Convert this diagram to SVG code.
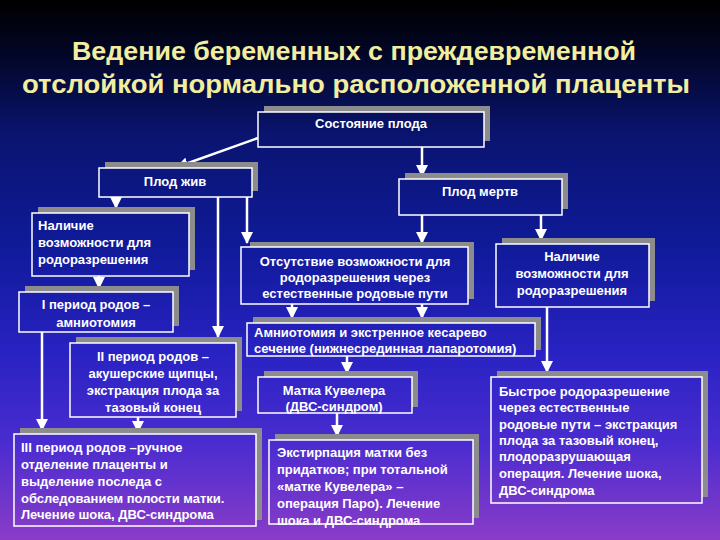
<svg xmlns="http://www.w3.org/2000/svg" width="720" height="540" viewBox="0 0 720 540">
<defs>
<linearGradient id="bg" gradientUnits="userSpaceOnUse" x1="0" y1="0" x2="0" y2="540">
<stop offset="0" stop-color="#000000"/>
<stop offset="0.1" stop-color="#020626"/>
<stop offset="0.25" stop-color="#0a1470"/>
<stop offset="0.45" stop-color="#0f1a98"/>
<stop offset="0.65" stop-color="#2822c2"/>
<stop offset="0.82" stop-color="#4a2cd0"/>
<stop offset="1" stop-color="#8a3cc8"/>
</linearGradient>
<marker id="arr" markerUnits="userSpaceOnUse" markerWidth="12" markerHeight="12" refX="11" refY="6" orient="auto">
<path d="M0,0 L12,6 L0,12 z" fill="#ffffff"/>
</marker>
</defs>
<style>
.sh{fill:#8c8c8c}
.bx{fill:url(#bg);stroke:#ffffff;stroke-width:1.5}
.t{font-family:"Liberation Sans",Arial,sans-serif;font-weight:bold;font-size:13px;fill:#ffffff}
.c{text-anchor:middle}
.ttl{font-family:"Liberation Sans",Arial,sans-serif;font-weight:bold;font-size:25px;fill:#f2eea0;text-anchor:middle}
.ln{stroke:#ffffff;stroke-width:2.5;fill:none;marker-end:url(#arr)}
</style>
<rect x="0" y="0" width="720" height="540" fill="url(#bg)"/>
<g id="title">
<text class="ttl" x="354" y="60" textLength="564" lengthAdjust="spacingAndGlyphs">Ведение беременных с преждевременной</text>
<text class="ttl" x="356" y="93" textLength="668" lengthAdjust="spacingAndGlyphs">отслойкой нормально расположенной плаценты</text>
</g>
<g id="connectors">
<line class="ln" x1="258" y1="138" x2="177" y2="167"/>
<line class="ln" x1="422" y1="147" x2="422" y2="176"/>
<line class="ln" x1="116" y1="197" x2="116" y2="208"/>
<line class="ln" x1="218" y1="197" x2="218" y2="337"/>
<line class="ln" x1="247" y1="197" x2="247" y2="243"/>
<line class="ln" x1="99" y1="276" x2="99" y2="288"/>
<line class="ln" x1="42" y1="332" x2="42" y2="430"/>
<line class="ln" x1="138" y1="417" x2="138" y2="432"/>
<line class="ln" x1="422" y1="215" x2="422" y2="243"/>
<line class="ln" x1="541" y1="215" x2="541" y2="240"/>
<line class="ln" x1="292" y1="304" x2="292" y2="318"/>
<line class="ln" x1="422" y1="304" x2="422" y2="318"/>
<line class="ln" x1="347" y1="356" x2="347" y2="373"/>
<line class="ln" x1="337" y1="413" x2="337" y2="436"/>
<line class="ln" x1="547" y1="307" x2="547" y2="372"/>
</g>
<g id="n-state">
<rect class="sh" x="264" y="106" width="226" height="35"/>
<rect class="bx" x="258" y="112" width="226" height="35"/>
<text class="t c" x="371" y="128">Состояние плода</text>
</g>
<g id="n-alive">
<rect class="sh" x="105" y="162" width="153" height="29"/>
<rect class="bx" x="99" y="168" width="153" height="29"/>
<text class="t c" x="175" y="186">Плод жив</text>
</g>
<g id="n-dead">
<rect class="sh" x="405" y="173" width="163" height="36"/>
<rect class="bx" x="399" y="179" width="163" height="36"/>
<text class="t c" x="480" y="196">Плод мертв</text>
</g>
<g id="n-possible-left">
<rect class="sh" x="38" y="207" width="157" height="63"/>
<rect class="bx" x="32" y="213" width="157" height="63"/>
<text class="t" x="38" y="230">Наличие</text>
<text class="t" x="38" y="247">возможности для</text>
<text class="t" x="38" y="264">родоразрешения</text>
</g>
<g id="n-period1">
<rect class="sh" x="25" y="286" width="154" height="40"/>
<rect class="bx" x="19" y="292" width="154" height="40"/>
<text class="t c" x="96" y="309">I период родов –</text>
<text class="t c" x="96" y="327">амниотомия</text>
</g>
<g id="n-period2">
<rect class="sh" x="76" y="337" width="166" height="74"/>
<rect class="bx" x="70" y="343" width="166" height="74"/>
<text class="t c" x="153" y="361">II период родов –</text>
<text class="t c" x="153" y="378">акушерские щипцы,</text>
<text class="t c" x="153" y="395">экстракция плода за</text>
<text class="t c" x="153" y="412">тазовый конец</text>
</g>
<g id="n-period3">
<rect class="sh" x="20" y="428" width="242" height="92"/>
<rect class="bx" x="14" y="434" width="242" height="92"/>
<text class="t" x="21" y="452">III период родов –ручное</text>
<text class="t" x="21" y="469">отделение плаценты и</text>
<text class="t" x="21" y="486">выделение последа с</text>
<text class="t" x="21" y="503">обследованием полости матки.</text>
<text class="t" x="21" y="519">Лечение шока, ДВС-синдрома</text>
</g>
<g id="n-absent">
<rect class="sh" x="250" y="242" width="224" height="57"/>
<rect class="bx" x="241" y="247" width="227" height="57"/>
<text class="t c" x="355" y="266">Отсутствие возможности для</text>
<text class="t c" x="355" y="282">родоразрешения через</text>
<text class="t c" x="355" y="298">естественные родовые пути</text>
</g>
<g id="n-amnio">
<rect class="sh" x="253" y="317" width="288" height="33"/>
<rect class="bx" x="247" y="323" width="288" height="33"/>
<text class="t" x="254" y="337">Амниотомия и экстренное кесарево</text>
<text class="t" x="254" y="353">сечение (нижнесрединная лапаротомия)</text>
</g>
<g id="n-possible-right">
<rect class="sh" x="502" y="238" width="153" height="63"/>
<rect class="bx" x="496" y="244" width="153" height="63"/>
<text class="t c" x="572" y="261">Наличие</text>
<text class="t c" x="572" y="278">возможности для</text>
<text class="t c" x="572" y="295">родоразрешения</text>
</g>
<g id="n-couvelaire">
<rect class="sh" x="264" y="371" width="154" height="36"/>
<rect class="bx" x="258" y="377" width="154" height="36"/>
<text class="t c" x="334" y="395">Матка Кувелера</text>
<text class="t c" x="334" y="411">(ДВС-синдром)</text>
</g>
<g id="n-extirpation">
<rect class="sh" x="275" y="434" width="204" height="84"/>
<rect class="bx" x="269" y="440" width="204" height="84"/>
<text class="t" x="277" y="457">Экстирпация матки без</text>
<text class="t" x="277" y="474">придатков; при тотальной</text>
<text class="t" x="277" y="491">«матке Кувелера» –</text>
<text class="t" x="277" y="508">операция Паро). Лечение</text>
<text class="t" x="277" y="525">шока и ДВС-синдрома</text>
</g>
<g id="n-fast">
<rect class="sh" x="497" y="371" width="211" height="126"/>
<rect class="bx" x="491" y="377" width="211" height="126"/>
<text class="t" x="499" y="396">Быстрое родоразрешение</text>
<text class="t" x="499" y="412">через естественные</text>
<text class="t" x="499" y="429">родовые пути – экстракция</text>
<text class="t" x="499" y="445">плода за тазовый конец,</text>
<text class="t" x="499" y="461">плодоразрушающая</text>
<text class="t" x="499" y="478">операция. Лечение шока,</text>
<text class="t" x="499" y="495">ДВС-синдрома</text>
</g>
</svg>
